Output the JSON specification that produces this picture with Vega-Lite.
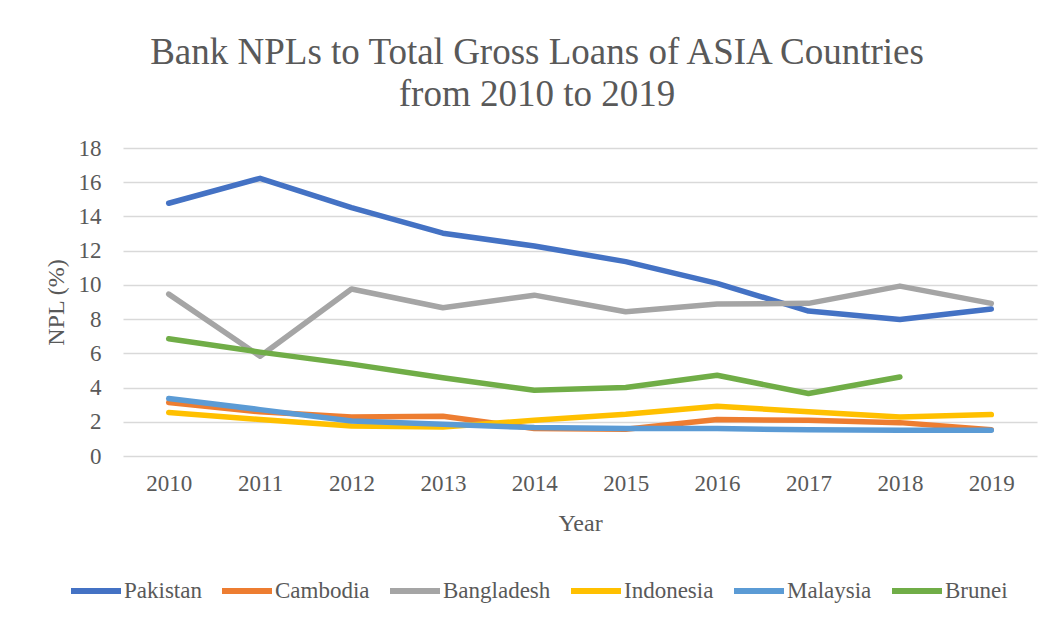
{
  "$schema": "https://vega.github.io/schema/vega-lite/v6.json",
  "autosize": {"type": "none"},
  "padding": {"left": 123, "top": 148, "right": 22, "bottom": 165},
  "width": 914,
  "height": 308,
  "background": "white",
  "title": {
    "text": ["Bank NPLs to Total Gross Loans of ASIA Countries", "from 2010 to 2019"],
    "font": "Liberation Serif",
    "fontSize": 37,
    "fontWeight": "normal",
    "color": "#595959",
    "lineHeight": 42,
    "anchor": "middle",
    "frame": "group",
    "dx": -43,
    "offset": 23
  },
  "data": {
    "values": [
      {"Year": "2010", "Country": "Pakistan", "NPL": 14.77},
      {"Year": "2011", "Country": "Pakistan", "NPL": 16.23},
      {"Year": "2012", "Country": "Pakistan", "NPL": 14.52},
      {"Year": "2013", "Country": "Pakistan", "NPL": 13.02},
      {"Year": "2014", "Country": "Pakistan", "NPL": 12.27},
      {"Year": "2015", "Country": "Pakistan", "NPL": 11.36},
      {"Year": "2016", "Country": "Pakistan", "NPL": 10.09},
      {"Year": "2017", "Country": "Pakistan", "NPL": 8.47},
      {"Year": "2018", "Country": "Pakistan", "NPL": 7.98},
      {"Year": "2019", "Country": "Pakistan", "NPL": 8.59},
      {"Year": "2010", "Country": "Cambodia", "NPL": 3.12},
      {"Year": "2011", "Country": "Cambodia", "NPL": 2.58},
      {"Year": "2012", "Country": "Cambodia", "NPL": 2.28},
      {"Year": "2013", "Country": "Cambodia", "NPL": 2.32},
      {"Year": "2014", "Country": "Cambodia", "NPL": 1.6},
      {"Year": "2015", "Country": "Cambodia", "NPL": 1.56},
      {"Year": "2016", "Country": "Cambodia", "NPL": 2.13},
      {"Year": "2017", "Country": "Cambodia", "NPL": 2.09},
      {"Year": "2018", "Country": "Cambodia", "NPL": 1.95},
      {"Year": "2019", "Country": "Cambodia", "NPL": 1.54},
      {"Year": "2010", "Country": "Bangladesh", "NPL": 9.46},
      {"Year": "2011", "Country": "Bangladesh", "NPL": 5.83},
      {"Year": "2012", "Country": "Bangladesh", "NPL": 9.76},
      {"Year": "2013", "Country": "Bangladesh", "NPL": 8.66},
      {"Year": "2014", "Country": "Bangladesh", "NPL": 9.4},
      {"Year": "2015", "Country": "Bangladesh", "NPL": 8.43},
      {"Year": "2016", "Country": "Bangladesh", "NPL": 8.88},
      {"Year": "2017", "Country": "Bangladesh", "NPL": 8.92},
      {"Year": "2018", "Country": "Bangladesh", "NPL": 9.93},
      {"Year": "2019", "Country": "Bangladesh", "NPL": 8.92},
      {"Year": "2010", "Country": "Indonesia", "NPL": 2.54},
      {"Year": "2011", "Country": "Indonesia", "NPL": 2.13},
      {"Year": "2012", "Country": "Indonesia", "NPL": 1.76},
      {"Year": "2013", "Country": "Indonesia", "NPL": 1.7},
      {"Year": "2014", "Country": "Indonesia", "NPL": 2.09},
      {"Year": "2015", "Country": "Indonesia", "NPL": 2.44},
      {"Year": "2016", "Country": "Indonesia", "NPL": 2.91},
      {"Year": "2017", "Country": "Indonesia", "NPL": 2.58},
      {"Year": "2018", "Country": "Indonesia", "NPL": 2.28},
      {"Year": "2019", "Country": "Indonesia", "NPL": 2.42},
      {"Year": "2010", "Country": "Malaysia", "NPL": 3.36},
      {"Year": "2011", "Country": "Malaysia", "NPL": 2.71},
      {"Year": "2012", "Country": "Malaysia", "NPL": 2.05},
      {"Year": "2013", "Country": "Malaysia", "NPL": 1.85},
      {"Year": "2014", "Country": "Malaysia", "NPL": 1.66},
      {"Year": "2015", "Country": "Malaysia", "NPL": 1.6},
      {"Year": "2016", "Country": "Malaysia", "NPL": 1.6},
      {"Year": "2017", "Country": "Malaysia", "NPL": 1.54},
      {"Year": "2018", "Country": "Malaysia", "NPL": 1.5},
      {"Year": "2019", "Country": "Malaysia", "NPL": 1.5},
      {"Year": "2010", "Country": "Brunei", "NPL": 6.85},
      {"Year": "2011", "Country": "Brunei", "NPL": 6.07},
      {"Year": "2012", "Country": "Brunei", "NPL": 5.37},
      {"Year": "2013", "Country": "Brunei", "NPL": 4.57},
      {"Year": "2014", "Country": "Brunei", "NPL": 3.84},
      {"Year": "2015", "Country": "Brunei", "NPL": 4.0},
      {"Year": "2016", "Country": "Brunei", "NPL": 4.72},
      {"Year": "2017", "Country": "Brunei", "NPL": 3.65},
      {"Year": "2018", "Country": "Brunei", "NPL": 4.62}
    ]
  },
  "mark": {"type": "line", "strokeWidth": 5.5, "strokeCap": "round", "strokeJoin": "round"},
  "encoding": {
    "x": {
      "field": "Year",
      "type": "ordinal",
      "scale": {"type": "point", "padding": 0.5},
      "axis": {
        "title": "Year",
        "labelAngle": 0,
        "domain": false,
        "ticks": false,
        "grid": false,
        "labelPadding": 16,
        "titlePadding": 16
      }
    },
    "y": {
      "field": "NPL",
      "type": "quantitative",
      "scale": {"domain": [0, 18], "nice": false},
      "axis": {
        "title": "NPL (%)",
        "values": [0, 2, 4, 6, 8, 10, 12, 14, 16, 18],
        "domain": false,
        "ticks": false,
        "labelPadding": 22,
        "titlePadding": 10
      }
    },
    "color": {
      "field": "Country",
      "type": "nominal",
      "sort": ["Pakistan", "Cambodia", "Bangladesh", "Indonesia", "Malaysia", "Brunei"],
      "scale": {
        "domain": ["Pakistan", "Cambodia", "Bangladesh", "Indonesia", "Malaysia", "Brunei"],
        "range": ["#4472C4", "#ED7D31", "#A5A5A5", "#FFC000", "#5B9BD5", "#70AD47"]
      },
      "legend": {
        "title": null,
        "orient": "none",
        "direction": "horizontal",
        "legendX": -55,
        "legendY": 415,
        "symbolType": "stroke",
        "symbolSize": 2500,
        "symbolStrokeWidth": 6,
        "labelOffset": 0,
        "columnPadding": 8
      }
    }
  },
  "config": {
    "view": {"stroke": null},
    "font": "Liberation Serif",
    "axis": {
      "labelFont": "Liberation Serif",
      "labelFontSize": 23,
      "labelColor": "#595959",
      "titleFont": "Liberation Serif",
      "titleFontSize": 24,
      "titleFontWeight": "normal",
      "titleColor": "#595959",
      "gridColor": "#D9D9D9",
      "gridWidth": 1.5
    },
    "legend": {
      "labelFont": "Liberation Serif",
      "labelFontSize": 23,
      "labelColor": "#595959"
    }
  }
}
